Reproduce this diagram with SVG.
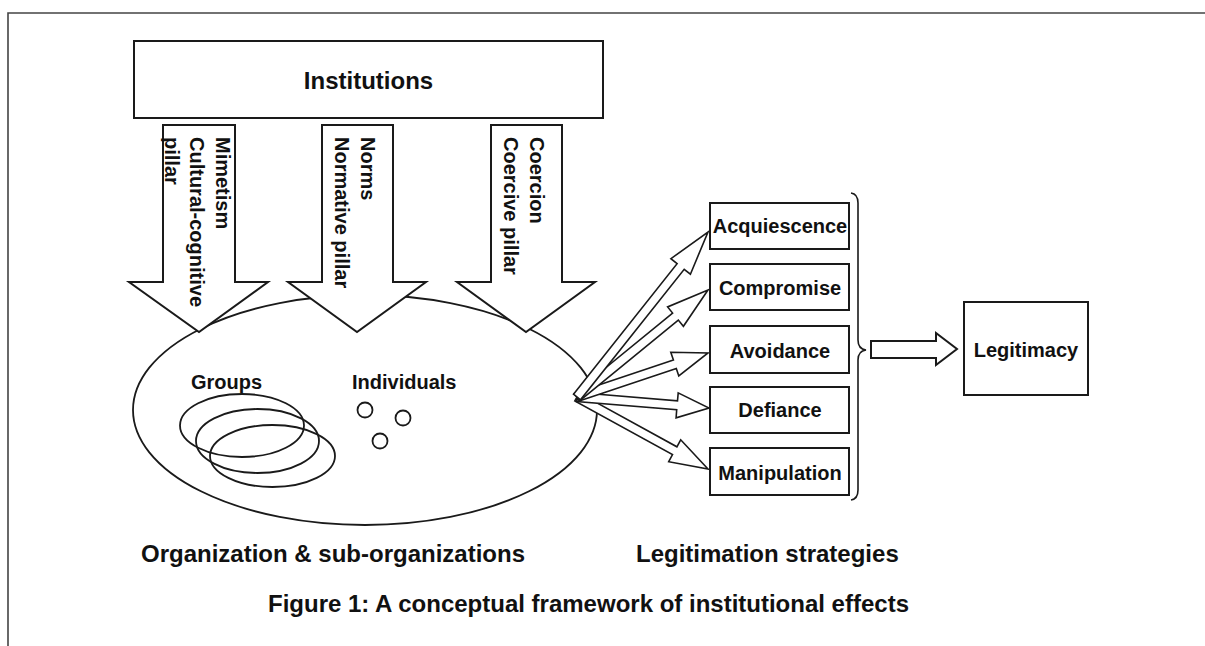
<svg xmlns="http://www.w3.org/2000/svg" width="1205" height="646" viewBox="0 0 1205 646">
<style>
  .ln{fill:#fff;stroke:#1a1a1a;stroke-width:2;stroke-linejoin:miter}
  .thin{fill:#fff;stroke:#1a1a1a;stroke-width:1.6;stroke-linejoin:miter}
  .open{fill:none;stroke:#1a1a1a;stroke-width:1.8}
  .t{font-family:"Liberation Sans",Arial,sans-serif;font-weight:bold;fill:#111}
  .t20{font-size:20px}
  .t24{font-size:24px}
</style>
<rect x="0" y="0" width="1205" height="646" fill="#fff"/>
<g id="frame">
  <path d="M8 646 L8 13 L1205 13" fill="none" stroke="#444" stroke-width="1.6"/>
</g>

<g id="organization">
  <ellipse class="open" cx="365" cy="410" rx="232" ry="115"/>
  <text class="t t20" x="191" y="389">Groups</text>
  <text class="t t20" x="352" y="389">Individuals</text>
  <ellipse class="open" cx="242" cy="425.5" rx="62" ry="31.5"/>
  <ellipse class="open" cx="257.5" cy="441" rx="61.5" ry="32"/>
  <ellipse class="open" cx="272.5" cy="456" rx="62.5" ry="31"/>
  <circle class="open" cx="365" cy="410" r="7.5"/>
  <circle class="open" cx="403" cy="418" r="7.5"/>
  <circle class="open" cx="380" cy="441" r="7.5"/>
</g>

<g id="institutions">
  <rect class="ln" x="134" y="41" width="469" height="77"/>
  <text class="t t24" x="368.5" y="89" text-anchor="middle">Institutions</text>
</g>

<g id="connectors">
  <g id="pillar-cultural">
    <polygon class="ln" points="163,125 235,125 235,282 268,282 199,332 129,282 163,282"/>
    <g class="t t20" transform="translate(0,137)">
      <text transform="translate(216,0) rotate(90)">Mimetism</text>
      <text transform="translate(190,0) rotate(90)">Cultural-cognitive</text>
      <text transform="translate(165,0) rotate(90)">pillar</text>
    </g>
  </g>
  <g id="pillar-normative">
    <polygon class="ln" points="322,125 393,125 393,282 426,282 357,332 288,282 322,282"/>
    <g class="t t20" transform="translate(0,137)">
      <text transform="translate(361,0) rotate(90)">Norms</text>
      <text transform="translate(335,0) rotate(90)">Normative pillar</text>
    </g>
  </g>
  <g id="pillar-coercive">
    <polygon class="ln" points="491,125 562,125 562,282 595,282 526,332 457,282 491,282"/>
    <g class="t t20" transform="translate(0,137)">
      <text transform="translate(530,0) rotate(90)">Coercion</text>
      <text transform="translate(504,0) rotate(90)">Coercive pillar</text>
    </g>
  </g>

  <polygon class="thin" points="579.2,393.1 676.9,446.8 680.7,439.8 708,469 668.7,461.7 672.5,454.6 574.8,400.9"/>
  <polygon class="thin" points="577.4,392.5 677.5,400.9 678.2,392.9 709,408 676.1,417.8 676.7,409.8 576.6,401.5"/>
  <polygon class="thin" points="575.6,392.7 673.4,359.9 670.8,352.3 708,353 678.8,376.0 676.3,368.4 578.4,401.3"/>
  <polygon class="thin" points="574.2,393.5 672.6,313.1 667.6,306.9 708,290 683.4,326.3 678.3,320.1 579.9,400.5"/>
  <polygon class="thin" points="573.5,394.2 677.1,263.7 670.9,258.7 708,232 690.4,274.2 684.2,269.3 580.5,399.8"/>

  <path d="M851 193 Q858 194 858 203 L858 340 Q858 349 866 350 Q858 351 858 360 L858 490 Q858 499 851 500" fill="none" stroke="#1a1a1a" stroke-width="1.6"/>
  <polygon class="ln" points="871,341 936,341 936,333 957,349 936,365 936,358 871,358"/>
</g>

<g id="acquiescence">
  <rect class="ln" x="710" y="203" width="139" height="46"/>
  <text class="t t20" x="780" y="233" text-anchor="middle">Acquiescence</text>
</g>
<g id="compromise">
  <rect class="ln" x="710" y="264" width="139" height="46"/>
  <text class="t t20" x="780" y="295" text-anchor="middle">Compromise</text>
</g>
<g id="avoidance">
  <rect class="ln" x="710" y="326" width="139" height="47"/>
  <text class="t t20" x="780" y="358" text-anchor="middle">Avoidance</text>
</g>
<g id="defiance">
  <rect class="ln" x="710" y="387" width="139" height="46"/>
  <text class="t t20" x="780" y="417" text-anchor="middle">Defiance</text>
</g>
<g id="manipulation">
  <rect class="ln" x="710" y="448" width="139" height="47"/>
  <text class="t t20" x="780" y="480" text-anchor="middle">Manipulation</text>
</g>

<g id="legitimacy">
  <rect class="ln" x="964" y="302" width="124" height="93"/>
  <text class="t t20" x="1026" y="357" text-anchor="middle">Legitimacy</text>
</g>

<g id="labels">
  <text class="t t24" x="141" y="562">Organization &amp; sub-organizations</text>
  <text class="t t24" x="636" y="562">Legitimation strategies</text>
  <text class="t t24" x="268" y="612">Figure 1: A conceptual framework of institutional effects</text>
</g>
</svg>
